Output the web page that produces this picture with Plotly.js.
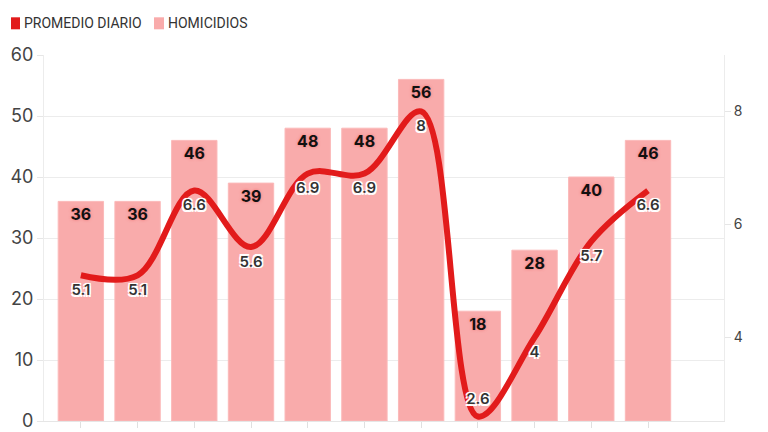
<!DOCTYPE html>
<html>
<head>
<meta charset="utf-8">
<script src="https://cdn.plot.ly/plotly-3.0.1.min.js"></script>
<style>
html,body{margin:0;padding:0;overflow:hidden;background:#fff;}
#chart{width:768px;height:470px;}
</style>
</head>
<body>
<div id="chart"></div>
<script>
// Data
const semanas = ['01 ene', '08 ene', '15 ene', '22 ene', '29 ene', '05 feb',
                 '12 feb', '19 feb', '26 feb', '05 mar', '12 mar'];
const homicidios = [36, 36, 46, 39, 48, 48, 56, 18, 28, 40, 46];
const promedioDiario = [5.1, 5.1, 6.6, 5.6, 6.9, 6.9, 8, 2.6, 4, 5.7, 6.6];
const promedioEtiquetas = ['5.1', '5.1', '6.6', '5.6', '6.9', '6.9', '8', '2.6', '4', '5.7', '6.6'];
const posEtiquetas = ['bottom center','bottom center','bottom center','bottom center','bottom center','bottom center',
                      'bottom center','top center','bottom center','bottom center','bottom center'];
const nombreLinea = 'PROMEDIO DIARIO';
const nombreBarras = 'HOMICIDIOS';

const FONT = 'Inter, "Open Sans", sans-serif';
const RED = '#e21b1b';
const PINK = '#f9abab';

const traces = [
  {
    type: 'bar', x: semanas, y: homicidios, name: nombreBarras, showlegend: false,
    marker: {color: PINK, line: {color: '#fbb9b9', width: 1}},
    text: homicidios.map(String), textposition: 'inside', insidetextanchor: 'end',
    textangle: 0, constraintext: 'none',
    textfont: {family: FONT, size: 16, color: '#111', weight: 700, shadow: '0 0 3px rgba(235,90,90,0.7)'},
    hoverinfo: 'x+y'
  },
  {
    type: 'scatter', mode: 'lines+markers+text', x: semanas, y: promedioDiario, yaxis: 'y2',
    name: nombreLinea, showlegend: false,
    line: {color: RED, width: 6, shape: 'spline', smoothing: 1},
    marker: {size: 12, color: 'rgba(0,0,0,0)'},
    text: promedioEtiquetas, textposition: posEtiquetas,
    textfont: {family: FONT, size: 15, color: '#333', weight: 600,
      shadow: '-1.5px -1.5px 0 #fff, 1.5px -1.5px 0 #fff, -1.5px 1.5px 0 #fff, 1.5px 1.5px 0 #fff, 0 0 3px #fff'},
    cliponaxis: false
  }
];

const layout = {
  width: 768, height: 470,
  margin: {l: 44, r: 44, t: 55, b: 49, autoexpand: false},
  paper_bgcolor: '#fff', plot_bgcolor: '#fff',
  font: {family: FONT, color: '#444'},
  bargap: 0.2,
  showlegend: false,
  xaxis: {
    type: 'category', range: [-0.65, 11.34], showgrid: false,
    showline: true, linecolor: '#e6e6e6', linewidth: 1,
    ticks: 'outside', ticklen: 6, tickcolor: '#e0e0e0',
    tickfont: {family: FONT, size: 12, color: '#555'}, tickangle: 0, zeroline: false
  },
  yaxis: {
    range: [0, 60], dtick: 10, showgrid: true, gridcolor: '#ececec',
    showline: true, linecolor: '#ececec', ticks: 'outside', ticklen: 6, tickcolor: '#e6e6e6',
    tickfont: {family: FONT, size: 18, color: '#444'}, zeroline: false
  },
  yaxis2: {
    overlaying: 'y', side: 'right', range: [2.52, 9.0], dtick: 2, tick0: 0,
    showgrid: false, showline: true, linecolor: '#ececec', ticks: 'outside', ticklen: 6, tickcolor: '#e6e6e6',
    tickfont: {family: FONT, size: 14, color: '#444'}, zeroline: false
  },
  shapes: [
    {type: 'rect', xref: 'paper', yref: 'paper', x0: -0.0485, x1: -0.0353, y0: 1.0702, y1: 1.103,
     fillcolor: RED, line: {width: 0}},
    {type: 'rect', xref: 'paper', yref: 'paper', x0: 0.1618, x1: 0.1765, y0: 1.0702, y1: 1.103,
     fillcolor: PINK, line: {width: 0}}
  ],
  annotations: [
    {text: nombreLinea, xref: 'paper', yref: 'paper', x: -0.033, y: 1.0874, xanchor: 'left', yanchor: 'middle',
     showarrow: false, font: {family: 'Roboto, sans-serif', size: 14, color: '#333'}},
    {text: nombreBarras, xref: 'paper', yref: 'paper', x: 0.1795, y: 1.0874, xanchor: 'left', yanchor: 'middle',
     showarrow: false, font: {family: 'Roboto, sans-serif', size: 14, color: '#333'}}
  ]
};

Plotly.newPlot('chart', traces, layout, {displayModeBar: false, staticPlot: true});
</script>
</body>
</html>
